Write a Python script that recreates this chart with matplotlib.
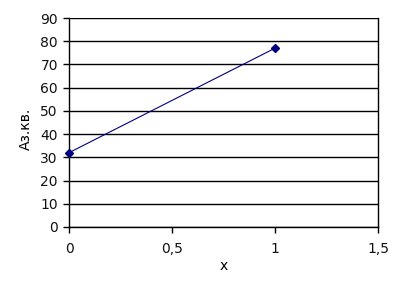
import matplotlib
matplotlib.use('Agg')
import matplotlib.pyplot as plt

# data
x_vals = [0, 1]
y_vals = [32, 77]
x_ticks = [0, 0.5, 1, 1.5]
x_tick_labels = ['0', '0,5', '1', '1,5']
y_ticks = list(range(0, 91, 10))

plt.rcParams['font.family'] = ['DejaVu Sans']

fig = plt.figure(figsize=(4.05, 2.83), dpi=100)
ax = fig.add_axes([69 / 405, 1 - 227 / 283, (378 - 69) / 405, (227 - 18) / 283])

ax.plot(x_vals, y_vals, color='#000080', linewidth=0.8, marker='D', markersize=4,
        clip_on=False, zorder=3)

ax.set_xlim(0, 1.5)
ax.set_ylim(0, 90)
ax.set_xticks(x_ticks)
ax.set_xticklabels(x_tick_labels)
ax.set_yticks(y_ticks)
ax.yaxis.grid(True, color='black', linewidth=1)
ax.set_axisbelow(True)

for s in ['left', 'right', 'bottom']:
    ax.spines[s].set_color('black')
    ax.spines[s].set_linewidth(1)
ax.spines['top'].set_visible(False)

ax.tick_params(axis='both', labelsize=10, length=4, width=1, color='black',
               labelcolor='#111111')
ax.tick_params(axis='x', pad=7)
ax.tick_params(axis='y', pad=4)
ax.set_xlabel('x', fontsize=10, labelpad=2)
ax.set_ylabel('Аз.кв.', fontsize=10)
ax.yaxis.set_label_coords(-0.117, 0.47)

fig.savefig('out.png', dpi=100)
